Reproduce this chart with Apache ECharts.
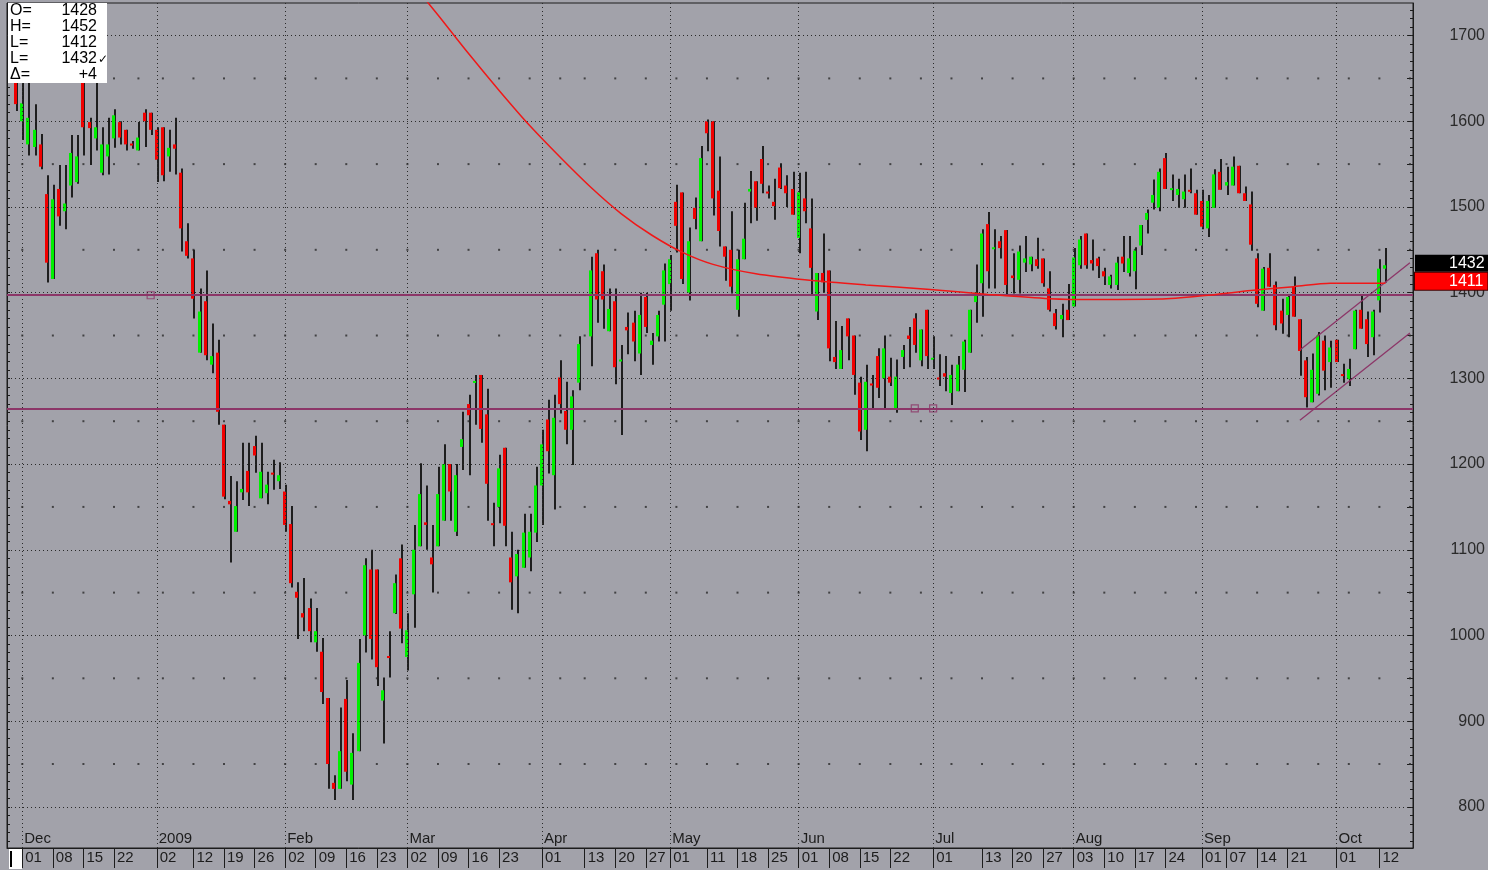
<!DOCTYPE html>
<html>
<head>
<meta charset="utf-8">
<script src="https://cdn.jsdelivr.net/npm/echarts@6/dist/echarts.min.js"></script>
<style>
  html, body { margin: 0; padding: 0; background: #fff; }
  #chart { width: 1488px; height: 870px; }
</style>
</head>
<body>
<div id="chart"></div>
<script>
// daily bars: date, open, close, low, high  (date alone = empty slot)
const bars = [
  ['2008-11-27'],
  ['2008-11-28', 1660, 1620, 1612, 1690],
  ['2008-12-01', 1600, 1621, 1578, 1650], ['2008-12-02', 1573, 1604, 1560, 1650], ['2008-12-03', 1570, 1590, 1560, 1620],
  ['2008-12-04', 1573, 1547, 1544, 1585], ['2008-12-05', 1515, 1435, 1412, 1537],
  ['2008-12-08', 1416, 1509, 1416, 1526], ['2008-12-09', 1521, 1489, 1478, 1549], ['2008-12-10', 1495, 1504, 1474, 1549],
  ['2008-12-11', 1525, 1563, 1511, 1584], ['2008-12-12', 1529, 1559, 1527, 1584],
  ['2008-12-15', 1650, 1593, 1560, 1670], ['2008-12-16', 1599, 1592, 1549, 1604], ['2008-12-17', 1580, 1593, 1566, 1650],
  ['2008-12-18', 1540, 1573, 1537, 1593], ['2008-12-19', 1559, 1573, 1538, 1604],
  ['2008-12-22', 1580, 1607, 1569, 1614], ['2008-12-23', 1599, 1581, 1573, 1600], ['2008-12-24', 1590, 1573, 1566, 1590],
  ['2008-12-26', 1574, 1572, 1568, 1577],
  ['2008-12-29', 1566, 1581, 1566, 1599], ['2008-12-30', 1610, 1600, 1570, 1614], ['2008-12-31', 1610, 1590, 1584, 1610],
  ['2009-01-02', 1590, 1555, 1529, 1593],
  ['2009-01-05', 1593, 1537, 1530, 1593], ['2009-01-06', 1559, 1569, 1541, 1590], ['2009-01-07', 1573, 1568, 1538, 1604],
  ['2009-01-08', 1540, 1475, 1448, 1545], ['2009-01-09', 1460, 1443, 1440, 1481],
  ['2009-01-12', 1440, 1393, 1370, 1450], ['2009-01-13', 1330, 1378, 1330, 1405], ['2009-01-14', 1390, 1327, 1321, 1426],
  ['2009-01-15', 1316, 1326, 1306, 1364], ['2009-01-16', 1330, 1261, 1246, 1345],
  ['2009-01-19', 1246, 1162, 1159, 1246], ['2009-01-20', 1157, 1153, 1085, 1186], ['2009-01-21', 1121, 1151, 1121, 1180],
  ['2009-01-22', 1167, 1171, 1158, 1225], ['2009-01-23', 1192, 1167, 1151, 1225],
  ['2009-01-26', 1221, 1210, 1190, 1233], ['2009-01-27', 1160, 1191, 1160, 1225], ['2009-01-28', 1166, 1176, 1153, 1191],
  ['2009-01-29', 1190, 1188, 1170, 1205], ['2009-01-30', 1180, 1187, 1171, 1202],
  ['2009-02-02', 1168, 1129, 1121, 1176], ['2009-02-03', 1130, 1061, 1056, 1151], ['2009-02-04', 1051, 1044, 996, 1062],
  ['2009-02-05', 1026, 1021, 1005, 1067], ['2009-02-06', 1032, 1005, 992, 1043],
  ['2009-02-09', 992, 1005, 981, 1032], ['2009-02-10', 981, 934, 920, 997], ['2009-02-11', 927, 850, 821, 927],
  ['2009-02-12', 828, 821, 808, 837], ['2009-02-13', 821, 865, 821, 916],
  ['2009-02-16', 926, 841, 830, 948], ['2009-02-17', 826, 863, 808, 886], ['2009-02-18', 865, 968, 865, 996],
  ['2009-02-19', 1000, 1082, 980, 1090], ['2009-02-20', 1077, 996, 972, 1100],
  ['2009-02-23', 1077, 963, 941, 1077], ['2009-02-24', 924, 936, 874, 951], ['2009-02-25', 976, 974, 951, 1005],
  ['2009-02-26', 1026, 1061, 1025, 1071], ['2009-02-27', 1090, 1008, 991, 1106],
  ['2009-03-02', 975, 1006, 959, 1026], ['2009-03-03', 1048, 1100, 1009, 1129], ['2009-03-04', 1104, 1165, 1104, 1201],
  ['2009-03-05', 1132, 1129, 1100, 1175], ['2009-03-06', 1091, 1083, 1050, 1129],
  ['2009-03-09', 1104, 1165, 1104, 1197], ['2009-03-10', 1134, 1200, 1134, 1223], ['2009-03-11', 1200, 1168, 1134, 1200],
  ['2009-03-12', 1121, 1187, 1116, 1200], ['2009-03-13', 1220, 1229, 1193, 1261],
  ['2009-03-16', 1270, 1257, 1187, 1281], ['2009-03-17', 1295, 1297, 1246, 1304], ['2009-03-18', 1304, 1241, 1225, 1304],
  ['2009-03-19', 1258, 1177, 1134, 1288], ['2009-03-20', 1131, 1129, 1104, 1155],
  ['2009-03-23', 1150, 1195, 1131, 1211], ['2009-03-24', 1219, 1128, 1104, 1219], ['2009-03-25', 1091, 1062, 1030, 1121],
  ['2009-03-26', 1069, 1095, 1026, 1100], ['2009-03-27', 1079, 1120, 1079, 1142],
  ['2009-03-30', 1091, 1121, 1075, 1142], ['2009-03-31', 1120, 1175, 1109, 1197],
  ['2009-04-01', 1175, 1223, 1129, 1240], ['2009-04-02', 1252, 1215, 1189, 1275], ['2009-04-03', 1187, 1254, 1147, 1281],
  ['2009-04-06', 1301, 1270, 1259, 1321], ['2009-04-07', 1262, 1240, 1223, 1296], ['2009-04-08', 1240, 1279, 1199, 1286],
  ['2009-04-09', 1295, 1340, 1286, 1349],
  ['2009-04-13'],
  ['2009-04-14', 1349, 1426, 1314, 1442], ['2009-04-15', 1446, 1392, 1365, 1450], ['2009-04-16', 1425, 1392, 1358, 1433],
  ['2009-04-17', 1355, 1381, 1355, 1405],
  ['2009-04-20', 1390, 1313, 1293, 1405], ['2009-04-21', 1320, 1322, 1234, 1339], ['2009-04-22', 1360, 1356, 1328, 1377],
  ['2009-04-23', 1365, 1343, 1320, 1379], ['2009-04-24', 1329, 1374, 1304, 1400],
  ['2009-04-27', 1395, 1360, 1353, 1400], ['2009-04-28', 1339, 1344, 1316, 1353], ['2009-04-29', 1349, 1374, 1343, 1379],
  ['2009-04-30', 1386, 1426, 1343, 1434],
  ['2009-05-01', 1410, 1439, 1379, 1444],
  ['2009-05-04', 1506, 1478, 1447, 1526], ['2009-05-05', 1517, 1416, 1410, 1517], ['2009-05-06', 1400, 1460, 1391, 1476],
  ['2009-05-07', 1499, 1486, 1474, 1511], ['2009-05-08', 1460, 1557, 1460, 1571],
  ['2009-05-11', 1600, 1586, 1565, 1602], ['2009-05-12', 1600, 1510, 1490, 1600], ['2009-05-13', 1519, 1472, 1454, 1559],
  ['2009-05-14', 1454, 1442, 1414, 1454], ['2009-05-15', 1450, 1407, 1399, 1495],
  ['2009-05-18', 1380, 1439, 1372, 1450], ['2009-05-19', 1439, 1463, 1439, 1505], ['2009-05-20', 1518, 1521, 1481, 1542],
  ['2009-05-21', 1530, 1499, 1484, 1530], ['2009-05-22', 1556, 1527, 1516, 1571],
  ['2009-05-25', 1518, 1516, 1510, 1525], ['2009-05-26', 1506, 1501, 1485, 1533], ['2009-05-27', 1546, 1522, 1521, 1551],
  ['2009-05-28', 1525, 1516, 1500, 1537], ['2009-05-29', 1521, 1491, 1491, 1541],
  ['2009-06-01', 1464, 1517, 1446, 1540], ['2009-06-02', 1510, 1495, 1481, 1541], ['2009-06-03', 1475, 1429, 1396, 1510],
  ['2009-06-04', 1378, 1423, 1368, 1423], ['2009-06-05', 1423, 1412, 1400, 1469],
  ['2009-06-08', 1426, 1335, 1320, 1426], ['2009-06-09', 1325, 1319, 1311, 1367], ['2009-06-10', 1311, 1333, 1311, 1361],
  ['2009-06-11', 1370, 1349, 1321, 1370], ['2009-06-12', 1350, 1304, 1281, 1350],
  ['2009-06-15', 1295, 1238, 1228, 1302], ['2009-06-16', 1240, 1296, 1215, 1316], ['2009-06-17', 1294, 1293, 1263, 1304],
  ['2009-06-18', 1326, 1289, 1277, 1335], ['2009-06-19', 1300, 1335, 1265, 1350],
  ['2009-06-22', 1302, 1295, 1291, 1324], ['2009-06-23', 1265, 1302, 1260, 1322], ['2009-06-24', 1325, 1333, 1311, 1339],
  ['2009-06-25', 1350, 1346, 1313, 1360], ['2009-06-26', 1370, 1339, 1330, 1376],
  ['2009-06-29', 1321, 1357, 1314, 1357], ['2009-06-30', 1380, 1326, 1311, 1380],
  ['2009-07-01', 1322, 1324, 1311, 1349], ['2009-07-02', 1301, 1300, 1291, 1328], ['2009-07-03', 1306, 1302, 1285, 1326],
  ['2009-07-06', 1283, 1304, 1269, 1316], ['2009-07-07', 1285, 1316, 1285, 1326], ['2009-07-08', 1310, 1343, 1284, 1345],
  ['2009-07-09', 1330, 1380, 1330, 1380], ['2009-07-10', 1389, 1400, 1365, 1433],
  ['2009-07-13', 1411, 1469, 1372, 1474], ['2009-07-14', 1480, 1425, 1405, 1494], ['2009-07-15', 1451, 1453, 1405, 1474],
  ['2009-07-16', 1460, 1452, 1440, 1466], ['2009-07-17', 1473, 1409, 1398, 1473],
  ['2009-07-20', 1420, 1417, 1399, 1446], ['2009-07-21', 1415, 1448, 1399, 1455], ['2009-07-22', 1435, 1440, 1424, 1466],
  ['2009-07-23', 1433, 1442, 1425, 1442], ['2009-07-24', 1439, 1431, 1428, 1464],
  ['2009-07-27', 1440, 1411, 1407, 1440], ['2009-07-28', 1405, 1380, 1378, 1425], ['2009-07-29', 1376, 1361, 1357, 1381],
  ['2009-07-30', 1369, 1374, 1348, 1387], ['2009-07-31', 1380, 1368, 1368, 1410],
  ['2009-08-03', 1384, 1441, 1384, 1452], ['2009-08-04', 1432, 1462, 1428, 1466], ['2009-08-05', 1469, 1432, 1428, 1469],
  ['2009-08-06', 1438, 1434, 1426, 1462], ['2009-08-07', 1440, 1431, 1417, 1442],
  ['2009-08-10', 1425, 1419, 1409, 1429], ['2009-08-11', 1409, 1419, 1405, 1421], ['2009-08-12', 1409, 1435, 1403, 1442],
  ['2009-08-13', 1442, 1434, 1424, 1466], ['2009-08-14', 1423, 1440, 1419, 1466],
  ['2009-08-17', 1425, 1449, 1404, 1453], ['2009-08-18', 1455, 1479, 1444, 1479], ['2009-08-19', 1485, 1493, 1469, 1497],
  ['2009-08-20', 1505, 1514, 1497, 1532], ['2009-08-21', 1499, 1541, 1495, 1545],
  ['2009-08-24', 1557, 1521, 1521, 1563], ['2009-08-25', 1520, 1522, 1507, 1538], ['2009-08-26', 1514, 1521, 1499, 1533],
  ['2009-08-27', 1509, 1518, 1499, 1538], ['2009-08-28', 1520, 1518, 1516, 1545],
  ['2009-08-31', 1516, 1491, 1491, 1520],
  ['2009-09-01', 1507, 1477, 1474, 1520], ['2009-09-02', 1475, 1507, 1465, 1514], ['2009-09-03', 1499, 1538, 1499, 1544],
  ['2009-09-04', 1541, 1520, 1520, 1556],
  ['2009-09-07', 1525, 1529, 1514, 1547], ['2009-09-08', 1525, 1547, 1525, 1559], ['2009-09-09', 1548, 1516, 1516, 1548],
  ['2009-09-10', 1516, 1507, 1507, 1524], ['2009-09-11', 1503, 1456, 1449, 1518],
  ['2009-09-14', 1440, 1387, 1383, 1446], ['2009-09-15', 1379, 1428, 1379, 1430], ['2009-09-16', 1429, 1407, 1407, 1446],
  ['2009-09-17', 1409, 1362, 1356, 1413], ['2009-09-18', 1379, 1364, 1352, 1393],
  ['2009-09-21', 1374, 1395, 1348, 1397], ['2009-09-22', 1407, 1372, 1372, 1419], ['2009-09-23', 1369, 1332, 1303, 1369],
  ['2009-09-24', 1321, 1278, 1266, 1325], ['2009-09-25', 1272, 1310, 1272, 1329],
  ['2009-09-28', 1282, 1350, 1280, 1354], ['2009-09-29', 1344, 1309, 1286, 1350], ['2009-09-30', 1319, 1336, 1289, 1344],
  ['2009-10-01', 1345, 1319, 1319, 1345], ['2009-10-02', 1305, 1303, 1295, 1317],
  ['2009-10-05', 1299, 1311, 1291, 1323], ['2009-10-06', 1334, 1379, 1334, 1380], ['2009-10-07', 1380, 1358, 1358, 1397],
  ['2009-10-08', 1369, 1340, 1325, 1378], ['2009-10-09', 1348, 1378, 1327, 1380],
  ['2009-10-12', 1391, 1428, 1377, 1439], ['2009-10-13', 1428, 1432, 1412, 1452],
  ['2009-10-14'], ['2009-10-15'], ['2009-10-16'], ['2009-10-19']
];

// red curve
const curve = [
  ['2009-03-03', 1759], ['2009-03-09', 1724], ['2009-03-16', 1679], ['2009-03-23', 1636], ['2009-03-30', 1595],
  ['2009-04-06', 1558], ['2009-04-14', 1523], ['2009-04-21', 1492], ['2009-04-28', 1467], ['2009-05-05', 1447],
  ['2009-05-12', 1433], ['2009-05-21', 1422], ['2009-06-02', 1415], ['2009-06-16', 1409], ['2009-06-30', 1404],
  ['2009-07-14', 1398], ['2009-07-28', 1393], ['2009-08-07', 1392], ['2009-08-21', 1392.5], ['2009-09-02', 1397],
  ['2009-09-11', 1402.5], ['2009-09-22', 1407], ['2009-09-30', 1411], ['2009-10-13', 1411]
];

// horizontal lines and their anchor points, rising channel
const levels = [1397, 1265];
const anchors = [['2008-12-31', 1397], ['2009-06-26', 1265], ['2009-07-01', 1265]];
const channelTop = [['2009-09-23', 1333], ['2009-10-19', 1435]];
const channelBottom = [['2009-09-23', 1251], ['2009-10-19', 1353]];

// axis labels
const priceLabels = [800, 900, 1000, 1100, 1200, 1300, 1400, 1500, 1600, 1700];
const halfLevels = [850, 950, 1050, 1150, 1250, 1350, 1450, 1550, 1650];
const monthStarts = [
  ['2008-12-01', 'Dec'], ['2009-01-02', '2009'], ['2009-02-02', 'Feb'], ['2009-03-02', 'Mar'],
  ['2009-04-01', 'Apr'], ['2009-05-01', 'May'], ['2009-06-01', 'Jun'], ['2009-07-01', 'Jul'],
  ['2009-08-03', 'Aug'], ['2009-09-01', 'Sep'], ['2009-10-01', 'Oct']
];
const dayTicks = [
  '2008-12-01', '2008-12-08', '2008-12-15', '2008-12-22', '2009-01-02', '2009-01-12', '2009-01-19', '2009-01-26',
  '2009-02-02', '2009-02-09', '2009-02-16', '2009-02-23', '2009-03-02', '2009-03-09', '2009-03-16', '2009-03-23',
  '2009-04-01', '2009-04-13', '2009-04-20', '2009-04-27', '2009-05-01', '2009-05-11', '2009-05-18', '2009-05-25',
  '2009-06-01', '2009-06-08', '2009-06-15', '2009-06-22', '2009-07-01', '2009-07-13', '2009-07-20', '2009-07-27',
  '2009-08-03', '2009-08-10', '2009-08-17', '2009-08-24', '2009-09-01', '2009-09-07', '2009-09-14', '2009-09-21',
  '2009-10-01', '2009-10-12'
];

const FONT = 'Liberation Sans';
const INK = '#1c1c1c';
const PURPLE = '#8c3668';

const dates = bars.map(b => b[0]);
const candles = bars.filter(b => b.length > 1);
const last = candles[candles.length - 1];
const curveLast = curve[curve.length - 1][1];
const dayTickSet = new Set(dayTicks);
const monthMap = new Map(monthStarts);

// small tick marks every 10 on the price axes, longer ones every 50
const tenTicks = [];
for (let v = 760; v <= 1730; v += 10) tenTicks.push(v);
const fiftyTicks = priceLabels.concat(halfLevels);

// weekly dots of the minor grid
const mondays = dates.filter(d => new Date(d + 'T00:00:00Z').getUTCDay() === 1);
const minorDots = [];
mondays.forEach(d => halfLevels.forEach(v => minorDots.push([d, v])));

function boxText(x, y, text, align, size, family) {
  return {
    type: 'text', x: x, y: y, z: 101,
    style: {
      text: text, fontFamily: family || FONT, fontSize: size || 16, fill: '#000',
      align: align || 'left', verticalAlign: 'middle'
    }
  };
}

var chart = echarts.init(document.getElementById('chart'));

var option = {
  animation: false,
  backgroundColor: '#a2a2aa',
  grid: {
    left: 7, right: 73, top: 3, bottom: 22,
    show: true, borderColor: INK, borderWidth: 1
  },
  xAxis: [
    {
      type: 'category',
      data: dates,
      boundaryGap: true,
      axisLine: { lineStyle: { color: INK, width: 1 } },
      axisTick: {
        show: true, alignWithLabel: true, length: 20,
        interval: (i, v) => dayTickSet.has(v),
        lineStyle: { color: INK }
      },
      axisLabel: {
        interval: (i, v) => dayTickSet.has(v),
        formatter: v => v.slice(8),
        align: 'left', margin: 2, padding: [0, 0, 0, 3],
        fontFamily: FONT, fontSize: 15, color: INK
      },
      splitLine: { show: false }
    },
    {
      type: 'category',
      data: dates,
      position: 'bottom',
      axisLine: { show: false },
      axisTick: { show: false },
      axisLabel: {
        inside: true,
        interval: (i, v) => monthMap.has(v),
        formatter: v => monthMap.get(v) || '',
        align: 'left', margin: 2, padding: [0, 0, 0, 2],
        fontFamily: FONT, fontSize: 15, color: INK
      },
      splitLine: { show: false }
    }
  ],
  yAxis: [
    {
      type: 'value', position: 'right', min: 752, max: 1738,
      axisLine: { show: true, lineStyle: { color: INK } },
      axisTick: { show: true, inside: true, length: 3, customValues: tenTicks, lineStyle: { color: INK } },
      axisLabel: {
        customValues: priceLabels, align: 'right', margin: 72,
        formatter: v => String(v),
        fontFamily: FONT, fontSize: 16, color: '#2a2a2a'
      },
      splitLine: { show: false }
    },
    {
      type: 'value', position: 'left', min: 752, max: 1738,
      axisLine: { show: true, lineStyle: { color: INK } },
      axisTick: { show: true, inside: true, length: 3, customValues: tenTicks, lineStyle: { color: INK } },
      axisLabel: { show: false },
      splitLine: { show: false }
    },
    {
      type: 'value', position: 'right', min: 752, max: 1738,
      axisLine: { show: false },
      axisTick: { show: true, inside: true, length: 6, customValues: fiftyTicks, lineStyle: { color: INK } },
      axisLabel: { show: false },
      splitLine: { show: false }
    }
  ],
  series: [
    {
      name: 'grid',
      type: 'scatter',
      silent: true,
      symbol: 'rect',
      symbolSize: [2, 2],
      itemStyle: { color: '#2a2a2a' },
      data: minorDots,
      z: 1,
      markLine: {
        silent: true,
        symbol: 'none',
        label: { show: false },
        lineStyle: { color: '#2a2a2a', width: 1, type: [1, 3] },
        data: priceLabels.map(v => ({ yAxis: v }))
          .concat(monthStarts.map(m => ({ xAxis: m[0] })))
      }
    },
    {
      name: 'bars',
      type: 'custom',
      clip: true,
      z: 3,
      data: candles,
      encode: { x: 0, y: [1, 2, 3, 4] },
      renderItem: function (params, api) {
        var i = api.value(0);
        var o = api.value(1), c = api.value(2), l = api.value(3), h = api.value(4);
        var cx = Math.round(api.coord([i, o])[0]);
        var yo = api.coord([i, o])[1];
        var yc = api.coord([i, c])[1];
        var yl = api.coord([i, l])[1];
        var yh = api.coord([i, h])[1];
        var top = Math.min(yo, yc);
        var bh = Math.max(Math.abs(yo - yc), 2);
        return {
          type: 'group',
          children: [
            { type: 'rect', shape: { x: cx, y: yh, width: 2, height: yl - yh }, style: { fill: '#1e1e1e' } },
            { type: 'rect', shape: { x: cx - 2, y: top, width: 3, height: bh },
              style: { fill: c >= o ? '#00f000' : '#f00000' } }
          ]
        };
      }
    },
    {
      name: 'levels',
      type: 'scatter',
      symbol: 'rect',
      symbolSize: 7,
      itemStyle: { color: 'rgba(0,0,0,0)', borderColor: PURPLE, borderWidth: 1.2 },
      data: anchors,
      z: 4,
      markLine: {
        silent: true,
        symbol: 'none',
        label: { show: false },
        lineStyle: { color: PURPLE, width: 2, type: 'solid' },
        data: levels.map(v => ({ yAxis: v }))
      }
    },
    {
      name: 'channel top',
      type: 'line',
      data: channelTop,
      symbol: 'none',
      lineStyle: { color: PURPLE, width: 1.3 },
      z: 4
    },
    {
      name: 'channel bottom',
      type: 'line',
      data: channelBottom,
      symbol: 'none',
      lineStyle: { color: PURPLE, width: 1.3 },
      z: 4
    },
    {
      name: 'curve',
      type: 'line',
      data: curve,
      smooth: 0.3,
      symbol: 'none',
      lineStyle: { color: '#f01818', width: 1.5 },
      z: 5,
      markLine: {
        silent: true,
        symbol: 'none',
        lineStyle: { color: 'rgba(0,0,0,0)', width: 1 },
        data: [
          {
            yAxis: last[2],
            label: {
              show: true, position: 'end', distance: 2, formatter: String(last[2]),
              color: '#fff', backgroundColor: '#000', padding: [1, 4, 0, 34],
              fontFamily: FONT, fontSize: 16, offset: [0, -2]
            }
          },
          {
            yAxis: curveLast,
            label: {
              show: true, position: 'end', distance: 2, formatter: String(curveLast),
              color: '#fff', backgroundColor: '#ff0000', borderColor: '#400', borderWidth: 1,
              padding: [1, 4, 0, 34],
              fontFamily: FONT, fontSize: 16, offset: [0, -2]
            }
          }
        ]
      }
    }
  ],
  graphic: [
    { type: 'rect', x: 8, y: 3, shape: { width: 99, height: 80 }, style: { fill: '#fff' }, z: 100 },
    boxText(10, 11, 'O='), boxText(97, 11, String(last[1]), 'right'),
    boxText(10, 27, 'H='), boxText(97, 27, String(last[4]), 'right'),
    boxText(10, 43, 'L='), boxText(97, 43, String(last[3]), 'right'),
    boxText(10, 59, 'L='), boxText(97, 59, String(last[2]), 'right'),
    boxText(98, 60, '\u2713', 'left', 12, 'DejaVu Sans'),
    boxText(10, 75, '\u0394='), boxText(97, 75, '+' + (last[2] - last[1]), 'right'),
    { type: 'rect', x: 9, y: 849, shape: { width: 13, height: 20 }, style: { fill: '#fff' }, z: 100 },
    { type: 'rect', x: 10, y: 851, shape: { width: 2, height: 16 }, style: { fill: '#000' }, z: 101 }
  ]
};

chart.setOption(option);

window.addEventListener('resize', function () {
  chart.resize();
});
</script>
</body>
</html>
